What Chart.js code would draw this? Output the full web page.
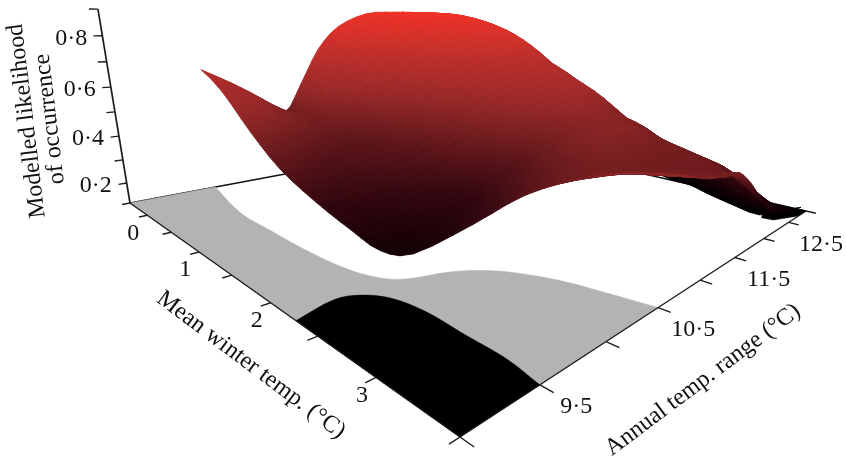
<!DOCTYPE html>
<html lang="en">
<head>
<meta charset="UTF-8">
<title>Modelled likelihood surface</title>
<script src="https://cdn.jsdelivr.net/npm/chart.js"></script>
<style>
    body { margin: 0; background: #fff; }
    canvas { display: block; }
</style>
</head>
<body>
<canvas id="chart" width="846" height="462"></canvas>
<script>
// Surface samples
const winterTemps = [-0.41, -0.01, 0.38, 0.78, 1.18, 1.61, 1.93, 2.17, 2.33, 2.49, 2.73, 3.04, 3.32, 3.56];
const rangeFront = [9.686, 9.611, 9.554, 9.536, 9.535, 9.545, 9.59, 9.631, 9.752, 10.076, 10.282, 10.41, 10.44, 10.5];
const rangeBack = [12.904, 12.904, 12.904, 12.904, 12.904, 12.904, 12.904, 12.904, 12.904, 12.885, 12.752, 12.604, 12.511, 12.753];
const rangeSteps = [0, 0.07, 0.14, 0.21, 0.27, 0.33, 0.4, 0.5, 0.6, 0.7, 0.8, 0.9, 1];
const likelihood = [
    [.65, .585, .51, .42, .56, .72, .83, .895, .905, .905, .90, .88, .85],
    [.63, .57, .50, .45, .50, .60, .71, .83, .88, .895, .89, .86, .81],
    [.585, .53, .47, .43, .45, .50, .58, .69, .76, .80, .81, .79, .73],
    [.48, .43, .40, .39, .40, .44, .50, .60, .67, .71, .72, .70, .61],
    [.38, .36, .36, .37, .38, .41, .46, .54, .60, .63, .64, .62, .44],
    [.31, .31, .32, .34, .36, .39, .43, .50, .55, .58, .59, .51, .26],
    [.25, .26, .28, .31, .34, .37, .41, .47, .51, .535, .50, .42, .16],
    [.21, .23, .26, .29, .33, .36, .40, .46, .50, .505, .46, .34, .125],
    [.205, .24, .28, .32, .36, .39, .43, .48, .50, .48, .43, .30, .112],
    [.28, .32, .36, .39, .42, .45, .48, .50, .49, .44, .38, .26, .112],
    [.385, .40, .42, .44, .45, .46, .47, .47, .46, .41, .36, .25, .112],
    [.46, .45, .45, .44, .44, .44, .44, .44, .43, .39, .34, .24, .112],
    [.505, .49, .47, .46, .45, .44, .43, .43, .40, .36, .30, .20, .112],
    [.52, .50, .48, .46, .45, .44, .437, .372, .285, .215, .185, .165, .148]
];

// Floor patches (winter temp, annual range)
const greyWinter = [-0.41, -0.41, 0.42, 0.94, 1.39, 1.78, 2.08, 2.26, 2.38, 2.48, 2.64, 2.94, 3.23, 3.56, 3.56];
const greyRange = [9.036, 9.686, 9.551, 9.538, 9.535, 9.553, 9.607, 9.716, 9.982, 10.116, 10.245, 10.376, 10.44, 10.5, 9.036];
const greyCorners = [0, 1, 13, 14];
const blackWinter = [2.28, 2.21, 2.27, 2.42, 2.67, 3.01, 3.32, 3.56, 3.56];
const blackRange = [9.036, 9.301, 9.433, 9.527, 9.565, 9.553, 9.543, 9.5, 9.036];
const blackCorners = [0, 7, 8];
const farWinter = [3.23, 3.56, 3.56, 3.45, 3.36];
const farRange = [12.887, 12.904, 12.72, 12.467, 12.45];

// Axes
const winterMin = -0.41, winterMax = 3.56;
const rangeMin = 9.036, rangeMax = 12.904;
const floorLevel = 0.112, topLevel = 0.9;
const winterTicks = [0, 0.5, 1, 1.5, 2, 2.5, 3, 3.56];
const winterLabels = [0, 1, 2, 3];
const rangeTicks = [9.036, 9.5, 10, 10.5, 11, 11.5, 12, 12.5, 12.904];
const rangeLabels = [9.5, 10.5, 11.5, 12.5];
const levelTicks = [0.112, 0.2, 0.3, 0.4, 0.5, 0.6, 0.7, 0.8, 0.9];
const levelLabels = [0.2, 0.4, 0.6, 0.8];

// Colour by height
const colourLevels = [.112, .2, .3, .43, .53, .65, .8, .905];
const colourValues = ['#000000', '#120004', '#32060f', '#701c1e', '#962828', '#b22d2a', '#d6312a', '#ef3125'];

// Perspective: floor corners on the picture, plus vanishing point of the verticals
const corners = { a: [130, 203], b: [460, 437], c: [806, 211], d: [483, 137] };
const vanish = [470, 2260];
const liftPerUnit = 0.1093;
const meshSteps = 3;

const H = (() => {
    const { a, b, c, d } = corners;
    const dx1 = b[0] - c[0], dx2 = d[0] - c[0], sx = a[0] - b[0] + c[0] - d[0];
    const dy1 = b[1] - c[1], dy2 = d[1] - c[1], sy = a[1] - b[1] + c[1] - d[1];
    const den = dx1 * dy2 - dx2 * dy1;
    const g = (sx * dy2 - dx2 * sy) / den;
    const h = (dx1 * sy - sx * dy1) / den;
    return { g, h, a: b[0] - a[0] + g * b[0], b: d[0] - a[0] + h * d[0], c: a[0], d: b[1] - a[1] + g * b[1], e: d[1] - a[1] + h * d[1], f: a[1] };
})();

function project(winter, range, level) {
    const s = (winter - winterMin) / (winterMax - winterMin);
    const t = (range - rangeMin) / (rangeMax - rangeMin);
    const lift = liftPerUnit * (level - floorLevel);
    const w = H.g * s + H.h * t + 1 - lift;
    return {
        x: (H.a * s + H.b * t + H.c - lift * vanish[0]) / w,
        y: (H.d * s + H.e * t + H.f - lift * vanish[1]) / w,
        depth: w
    };
}

function line(points, width, colour) {
    return { data: points, showLine: true, borderColor: colour || '#1c1c1c', borderWidth: width || 1.4, pointRadius: 0, fill: false };
}

// Filled floor patch; listed corners stay sharp, the rest is curved by the line tension
function patch(winters, ranges, colour, sharp, tension) {
    const pts = [];
    winters.forEach((u, i) => {
        const p = project(u, ranges[i], floorLevel);
        pts.push(p);
        if (sharp.includes(i)) pts.push(p);
    });
    pts.push(pts[0]);
    return { data: pts, showLine: true, borderColor: colour, borderWidth: 0.5, backgroundColor: colour, fill: 'shape', pointRadius: 0, tension: tension };
}

function mix(c1, c2, f) {
    const p = c => [1, 3, 5].map(i => parseInt(c.substr(i, 2), 16));
    const a = p(c1), b = p(c2);
    return 'rgb(' + a.map((v, i) => Math.round(v + (b[i] - v) * f)).join(',') + ')';
}

function colourFor(z) {
    if (z <= colourLevels[0]) return colourValues[0];
    for (let i = 1; i < colourLevels.length; i++) {
        if (z <= colourLevels[i]) {
            return mix(colourValues[i - 1], colourValues[i], (z - colourLevels[i - 1]) / (colourLevels[i] - colourLevels[i - 1]));
        }
    }
    return colourValues[colourValues.length - 1];
}

// One filled cell, shaded from its lowest to its highest corner
function cellPaint(verts) {
    return function (ctx) {
        const chart = ctx.chart;
        const lo = verts.reduce((m, v) => v.z < m.z ? v : m);
        const hi = verts.reduce((m, v) => v.z > m.z ? v : m);
        const xs = chart.scales.x, ys = chart.scales.y;
        const x0 = xs.getPixelForValue(lo.x), y0 = ys.getPixelForValue(lo.y);
        const x1 = xs.getPixelForValue(hi.x), y1 = ys.getPixelForValue(hi.y);
        // scales are not laid out on the first pass
        if (![x0, y0, x1, y1].every(Number.isFinite)) return colourFor(hi.z);
        if (hi.z - lo.z < 0.001 || Math.abs(x1 - x0) + Math.abs(y1 - y0) < 0.5) return colourFor(hi.z);
        const grad = chart.ctx.createLinearGradient(x0, y0, x1, y1);
        grad.addColorStop(0, colourFor(lo.z));
        grad.addColorStop(1, colourFor(hi.z));
        return grad;
    };
}

// Catmull-Rom rounding of the mesh at draw time, the same job as a line's tension
function spline(arr, pos) {
    const n = arr.length;
    const k = Math.min(Math.floor(pos), n - 2), f = pos - k;
    const at = i => i < 0 ? 2 * arr[0] - arr[1] : i >= n ? 2 * arr[n - 1] - arr[n - 2] : arr[i];
    const p0 = at(k - 1), p1 = at(k), p2 = at(k + 1), p3 = at(k + 2);
    return 0.5 * (2 * p1 + (p2 - p0) * f + (2 * p0 - 5 * p1 + 4 * p2 - p3) * f * f + (3 * p1 - p0 - 3 * p2 + p3) * f * f * f);
}

function surfaceCells() {
    const cells = [];
    const node = (a, b) => {
        const u = spline(winterTemps, a);
        const v = spline(rangeFront, a) + spline(rangeSteps, b) * (spline(rangeBack, a) - spline(rangeFront, a));
        const z = Math.max(floorLevel, spline(likelihood.map(row => spline(row, b)), a));
        const p = project(u, v, z);
        p.z = z;
        return p;
    };
    const rows = (winterTemps.length - 1) * meshSteps, cols = (rangeSteps.length - 1) * meshSteps;
    const nodes = [];
    for (let i = 0; i <= rows; i++) {
        nodes.push([]);
        for (let j = 0; j <= cols; j++) nodes[i].push(node(i / meshSteps, j / meshSteps));
    }
    for (let i = 0; i < rows; i++) {
        for (let j = 0; j < cols; j++) {
            const verts = [nodes[i][j], nodes[i + 1][j], nodes[i + 1][j + 1], nodes[i][j + 1]];
            cells.push({ verts, depth: verts.reduce((m, v) => m + v.depth, 0) / 4 });
        }
    }
    // far cells first
    cells.sort((p, q) => q.depth - p.depth);
    return cells.map(c => {
        const paint = cellPaint(c.verts);
        return {
            data: c.verts.concat([c.verts[0]]).map(v => ({ x: v.x, y: v.y })),
            showLine: true, fill: 'shape', pointRadius: 0, borderWidth: 1,
            backgroundColor: paint, borderColor: paint
        };
    });
}

const layers = [];
// back of the box, behind everything
layers.push(line([project(winterMin, rangeMin, floorLevel), project(winterMin, rangeMax, floorLevel)], 1.3, '#111'));
layers.push(line([project(winterMin, rangeMax, floorLevel), project(winterMax, rangeMax, floorLevel)], 1.3, '#111'));
layers.push(patch(greyWinter, greyRange, '#b2b3b5', greyCorners, 0.35));
layers.push(patch(blackWinter, blackRange, '#000000', blackCorners, 0.35));
layers.push(patch(farWinter, farRange, '#000000', [0, 1, 2, 3, 4], 0));
surfaceCells().forEach(c => layers.push(c));
// axes on top
layers.push(line([project(winterMin, rangeMin, floorLevel), project(winterMax, rangeMin, floorLevel)]));
layers.push(line([project(winterMax, rangeMin, floorLevel), project(winterMax, rangeMax, floorLevel)]));
layers.push(line([project(winterMin, rangeMin, floorLevel), project(winterMin, rangeMin, topLevel)], 1.7));
winterTicks.forEach(u => layers.push(line([project(u, rangeMin, floorLevel), project(u, rangeMin - 0.055, floorLevel)])));
rangeTicks.forEach(v => layers.push(line([project(winterMax, v, floorLevel), project(winterMax + 0.08, v, floorLevel)])));
levelTicks.forEach(z => layers.push(line([project(winterMin, rangeMin, z), project(winterMin, rangeMin - 0.055, z)])));

const serif = '"Liberation Serif", serif';

const textPlugin = {
    id: 'axisText',
    afterDraw(chart) {
        const c = chart.ctx, xs = chart.scales.x, ys = chart.scales.y;
        const at = p => [xs.getPixelForValue(p.x), ys.getPixelForValue(p.y)];
        const put = (str, x, y, rot, align) => {
            c.save();
            c.translate(x, y);
            c.rotate(rot * Math.PI / 180);
            c.textAlign = align || 'center';
            c.textBaseline = 'middle';
            c.fillStyle = '#111';
            c.fillText(str, 0, 0);
            c.restore();
        };
        const fmt = n => String(n).replace('.', '·');
        c.font = '24px ' + serif;
        winterLabels.forEach(u => {
            const [x, y] = at(project(u, rangeMin, floorLevel));
            put(fmt(u), x - 14, y + 18, 0);
        });
        rangeLabels.forEach(v => {
            const [x, y] = at(project(winterMax, v, floorLevel));
            const f = (v - rangeMin) / (rangeMax - rangeMin);
            put(fmt(v), x + 37 - 5 * f, y + 22, 0);
        });
        levelLabels.forEach(z => {
            const [x, y] = at(project(winterMin, rangeMin, z));
            put(fmt(z), x - 15, y + 3, 0, 'right');
        });
        put('Modelled likelihood', 27, 121, -96.8);
        put('of occurrence', 50, 119, -96.8);
        put('Mean winter temp. (°C)', 251, 365, 37);
        put('Annual temp. range (°C)', 703, 380, -36.9);
    }
};

new Chart(document.getElementById('chart'), {
    type: 'scatter',
    data: { datasets: layers.reverse() },
    options: {
        responsive: false,
        animation: false,
        layout: { padding: 0 },
        plugins: { legend: { display: false }, tooltip: { enabled: false } },
        scales: {
            x: { type: 'linear', min: 0, max: 846, display: false },
            y: { type: 'linear', min: 0, max: 462, reverse: true, display: false }
        },
        elements: { line: { tension: 0 } }
    },
    plugins: [textPlugin]
});
</script>
</body>
</html>
